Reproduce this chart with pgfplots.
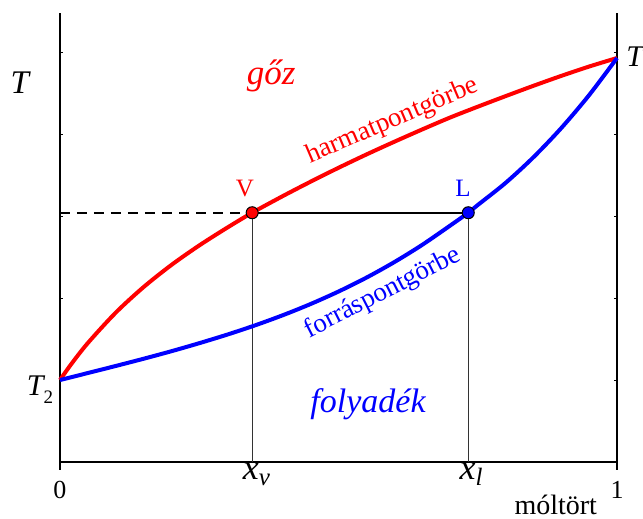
\documentclass[border=0pt]{standalone}
\usepackage{fontspec}
\setmainfont{Liberation Serif}
\newfontfamily\tnr{Liberation Serif}
\usepackage{pgfplots}
\pgfplotsset{compat=1.18}
\definecolor{dewred}{RGB}{255,0,0}
\definecolor{bubblue}{RGB}{0,0,255}

\newcommand{\fs}[1]{\tnr\fontsize{#1}{#1}\selectfont}

\begin{document}
\begin{tikzpicture}
\useasboundingbox (-60pt,-57pt) rectangle (583pt,462pt);
\begin{axis}[
  at={(0pt,0pt)}, anchor=south west,
  scale only axis, width=557pt, height=449pt,
  xmin=0, xmax=1, ymin=0, ymax=5.476,
  axis x line=bottom, axis y line=box,
  axis line style={-, line width=2.4pt},
  xtick={0,1},
  x tick style={draw=none},
  ytick={1,2,3,4,5}, yticklabels={},
  y tick style={line width=1pt, black},
  tick align=inside, major tick length=3pt,
  xticklabel style={font=\fs{26}, inner sep=0pt, anchor=north, yshift=-19pt},
  /pgf/number format/assume math mode=true,
  clip=false,
]
% tie line and guides
\addplot[black, line width=2pt, dash pattern=on 10pt off 7pt] coordinates {(0,3.040) (0.345,3.040)};
\addplot[black, line width=2pt] coordinates {(0.345,3.040) (0.733,3.040)};
\addplot[black!80, line width=1.3pt] coordinates {(0.345,3.040) (0.345,0)};
\addplot[black!80, line width=1.3pt] coordinates {(0.733,3.040) (0.733,0)};

% dew point curve (vapour)
\addplot[dewred, line width=4pt, smooth] coordinates {
  (0,1.000) (0.02,1.192) (0.05,1.451) (0.10,1.821) (0.15,2.133)
  (0.20,2.403) (0.25,2.641) (0.30,2.857) (0.345,3.040) (0.40,3.243)
  (0.45,3.419) (0.50,3.588) (0.55,3.750) (0.60,3.905) (0.65,4.055)
  (0.70,4.200) (0.75,4.333) (0.80,4.462) (0.85,4.588) (0.90,4.709)
  (0.95,4.823) (1,4.927)};
% bubble point curve (liquid)
\addplot[bubblue, line width=4pt, smooth] coordinates {
  (0,1.000) (0.05,1.085) (0.10,1.171) (0.15,1.259) (0.20,1.351)
  (0.25,1.449) (0.30,1.553) (0.35,1.666) (0.40,1.790) (0.45,1.927)
  (0.50,2.079) (0.55,2.248) (0.60,2.437) (0.65,2.647) (0.70,2.881)
  (0.733,3.040) (0.75,3.134) (0.80,3.404) (0.85,3.717) (0.90,4.073)
  (0.95,4.475) (1,4.927)};

% V and L points
\addplot[only marks, mark=*, mark size=6pt, mark options={fill=dewred, draw=black, line width=1pt}] coordinates {(0.345,3.040)};
\addplot[only marks, mark=*, mark size=6pt, mark options={fill=bubblue, draw=black, line width=1pt}] coordinates {(0.733,3.040)};

% axis ticks on the bottom
\draw[line width=1.6pt] (axis cs:0,0) -- ++(0pt,-8pt);
\draw[line width=1.6pt] (axis cs:1,0) -- ++(0pt,-8pt);

% labels
\node[font=\fs{33}\itshape] at (axis cs:-0.072,4.62) {T};
\node[inner sep=0pt] at (axis cs:-0.036,0.878) {{\fs{30}\itshape T}\raisebox{-8pt}{\fs{19}2}};
\node[font=\fs{30}\itshape] at (axis cs:1.032,4.94) {T};
\node[inner sep=0pt] at (axis cs:0.3527,-0.1463) {{\fs{36}\itshape x}\raisebox{-6pt}{\fs{25}\itshape v}};
\node[inner sep=0pt] at (axis cs:0.7379,-0.1463) {{\fs{36}\itshape x}\raisebox{-6pt}{\fs{25}\itshape l}};
\node[font=\fs{28}, anchor=base, inner sep=0pt] at (axis cs:0.890,-0.635) {móltört};
\node[font=\fs{35}\itshape, text=dewred, anchor=base, inner sep=0pt] at (axis cs:0.379,4.598) {gőz};
\node[font=\fs{34}\itshape, text=bubblue, anchor=base, inner sep=0pt] at (axis cs:0.553,0.598) {folyadék};
\node[font=\fs{25}, text=dewred, anchor=base, inner sep=0pt] at (axis cs:0.332,3.232) {V};
\node[font=\fs{25}, text=bubblue, anchor=base, inner sep=0pt] at (axis cs:0.7235,3.244) {L};
\node[font=\fs{27}, text=dewred, anchor=base, inner sep=0pt, rotate=23] at (axis cs:0.6014,4.085) {harmatpontgörbe};
\node[font=\fs{27}, text=bubblue, anchor=base, inner sep=0pt, rotate=27] at (axis cs:0.585,1.988) {forráspontgörbe};
\end{axis}
\end{tikzpicture}
\end{document}
